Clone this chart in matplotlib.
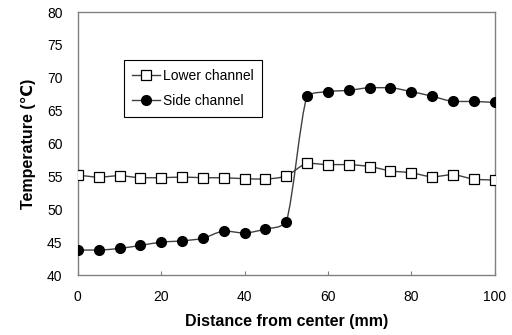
import numpy as np
from matplotlib import pyplot as plt
from matplotlib.path import Path
from matplotlib.patches import PathPatch

plt.rcParams['font.family'] = ['Liberation Sans', 'DejaVu Sans']

distance = [0, 5, 10, 15, 20, 25, 30, 35, 40, 45, 50,
            55, 60, 65, 70, 75, 80, 85, 90, 95, 100]
lower_channel = [55.2, 54.9, 55.1, 54.8, 54.8, 54.9, 54.8, 54.8, 54.65, 54.6, 55.1,
                 57.0, 56.8, 56.8, 56.5, 55.85, 55.55, 54.95, 55.25, 54.6, 54.45]
side_channel = [43.8, 43.8, 44.05, 44.5, 45.0, 45.2, 45.6, 46.7, 46.4, 47.0, 48.05,
                67.25, 67.9, 68.1, 68.5, 68.5, 67.9, 67.2, 66.4, 66.4, 66.25]

xticks = [0, 20, 40, 60, 80, 100]
yticks = [40, 45, 50, 55, 60, 65, 70, 75, 80]


def smooth_path(x, y):
    # smoothed line like Excel: Catmull-Rom segments as cubic Bezier,
    # control points kept inside each segment's y range (no overshoot)
    pts = np.column_stack([x, y]).astype(float)
    n = len(pts)
    verts = [pts[0]]
    codes = [Path.MOVETO]
    for i in range(n - 1):
        p0 = pts[max(i - 1, 0)]
        p1 = pts[i]
        p2 = pts[i + 1]
        p3 = pts[min(i + 2, n - 1)]
        c1 = p1 + (p2 - p0) / 6.0
        c2 = p2 - (p3 - p1) / 6.0
        lo, hi = min(p1[1], p2[1]), max(p1[1], p2[1])
        c1[1] = min(max(c1[1], lo), hi)
        c2[1] = min(max(c2[1], lo), hi)
        verts += [c1, c2, p2]
        codes += [Path.CURVE4] * 3
    return Path(verts, codes)


fig = plt.figure(figsize=(5.12, 3.35), dpi=100)
ax = fig.add_axes([0.152, 0.179, 0.814, 0.785])

for yv in (lower_channel, side_channel):
    ax.add_patch(PathPatch(smooth_path(distance, yv), facecolor='none',
                           edgecolor='#404040', linewidth=1.0, zorder=2))

ax.plot(distance, lower_channel, linestyle='none', marker='s', markersize=6.5,
        markerfacecolor='white', markeredgecolor='black', markeredgewidth=0.9, zorder=3)
ax.plot(distance, side_channel, linestyle='none', marker='o', markersize=7,
        markerfacecolor='black', markeredgecolor='black', zorder=3)

# legend handles
h1, = ax.plot([], [], color='#404040', linewidth=1.0, marker='s', markersize=6.5,
              markerfacecolor='white', markeredgecolor='black', markeredgewidth=0.9)
h2, = ax.plot([], [], color='#404040', linewidth=1.0, marker='o', markersize=7,
              markerfacecolor='black', markeredgecolor='black')
leg = ax.legend([h1, h2], ['Lower channel', 'Side channel'], loc='upper left',
                bbox_to_anchor=(0.11, 0.817), fontsize=10, fancybox=False,
                framealpha=1, edgecolor='black', handlelength=2.0,
                handletextpad=0.2, borderpad=0.6, labelspacing=0.85,
                borderaxespad=0)
leg.get_frame().set_linewidth(0.8)

ax.set_xlim(0, 100)
ax.set_ylim(40, 80)
ax.set_xticks(xticks)
ax.set_yticks(yticks)
ax.tick_params(axis='x', direction='in', length=3, pad=11, labelsize=10, color='#808080')
ax.tick_params(axis='y', length=0, pad=11, labelsize=10)
for s in ax.spines.values():
    s.set_color('#808080')
    s.set_linewidth(1.0)

ax.set_xlabel('Distance from center (mm)', fontsize=11.5, fontweight='bold', labelpad=7)
ax.set_ylabel('Temperature (℃)', fontsize=11.5, fontweight='bold', labelpad=8)

plt.savefig('out.png', dpi=100)
